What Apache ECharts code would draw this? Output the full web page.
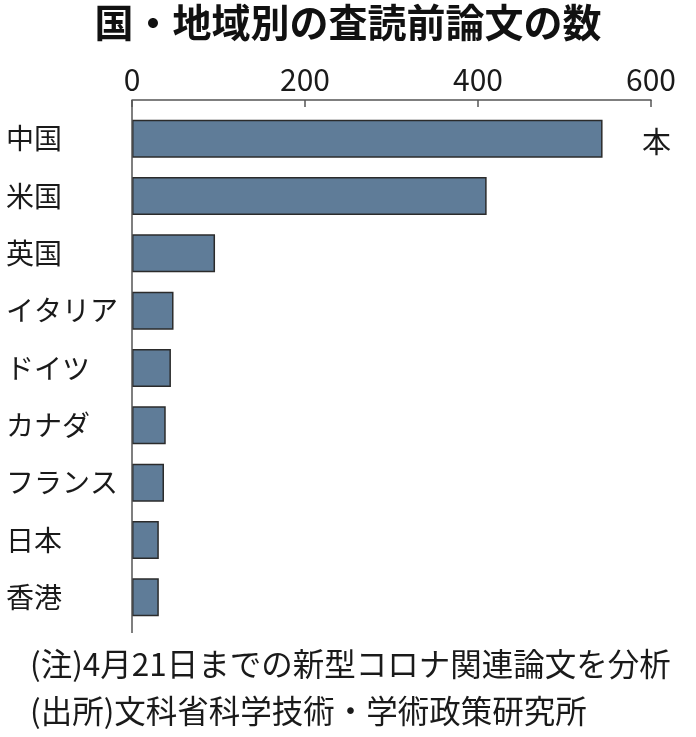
<!DOCTYPE html>
<html style="height: 100%">
<head>
<meta charset="utf-8">
<script src="https://cdn.jsdelivr.net/npm/echarts@6/dist/echarts.min.js"></script>
</head>
<body style="height: 100%; margin: 0; background: #fff">
<div id="container" style="width: 696px; height: 737px"></div>
<script type="text/javascript">
// 国・地域別の査読前論文の数
var countries = ['中国', '米国', '英国', 'イタリア', 'ドイツ', 'カナダ', 'フランス', '日本', '香港'];
var papers = [544, 410, 96, 48, 45, 39, 37, 31, 31];
var xTicks = [0, 200, 400, 600];
var unitLabel = '本';
var notes = ['(注)4月21日までの新型コロナ関連論文を分析', '(出所)文科省科学技術・学術政策研究所'];

var font = '"Noto Sans CJK JP", "Noto Sans", sans-serif';
var dom = document.getElementById('container');
var myChart = echarts.init(dom);

var option = {
    backgroundColor: '#fff',
    animation: false,
    textStyle: { fontFamily: font },
    title: [{
        text: '国・地域別の査読前論文の数',
        left: 'center',
        top: -2,
        textStyle: { fontFamily: font, fontSize: 39, fontWeight: 'bold', color: '#111' }
    }, {
        text: unitLabel,
        left: 637,
        top: 122,
        textStyle: { fontFamily: font, fontSize: 29, fontWeight: 'normal', color: '#1a1a1a' }
    }, {
        text: notes.join('\n'),
        left: 25,
        top: 636,
        textStyle: { fontFamily: font, fontSize: 31.5, fontWeight: 'normal', color: '#1a1a1a', lineHeight: 47 }
    }],
    grid: { left: 132, right: 45, top: 110, bottom: 111, containLabel: false },
    xAxis: {
        type: 'value',
        position: 'top',
        offset: 10,
        min: xTicks[0],
        max: xTicks[xTicks.length - 1],
        interval: xTicks[1] - xTicks[0],
        axisLine: { show: true, lineStyle: { color: '#555', width: 1.5 } },
        axisTick: { show: true, inside: true, length: 7, lineStyle: { color: '#555', width: 1.5 } },
        axisLabel: { fontFamily: font, fontSize: 30, color: '#1a1a1a', margin: 5 },
        splitLine: { show: false }
    },
    yAxis: {
        type: 'category',
        inverse: true,
        data: countries,
        axisLine: { show: false },
        axisTick: { show: false },
        axisLabel: { fontFamily: font, fontSize: 28, color: '#1a1a1a', align: 'left', margin: 126 }
    },
    series: [{
        type: 'bar',
        data: papers,
        barWidth: 38,
        itemStyle: { color: '#5f7c98', borderColor: '#2b2b2b', borderWidth: 1.5 }
    }]
};
myChart.setOption(option);

// vertical axis line running from the top axis past the last bar
var axisX = myChart.convertToPixel({ xAxisIndex: 0 }, 0);
myChart.setOption({
    graphic: [{
        type: 'line',
        shape: { x1: axisX, y1: 100, x2: axisX, y2: 633 },
        style: { stroke: '#555', lineWidth: 1.5 },
        z: 10
    }]
});
</script>
</body>
</html>
